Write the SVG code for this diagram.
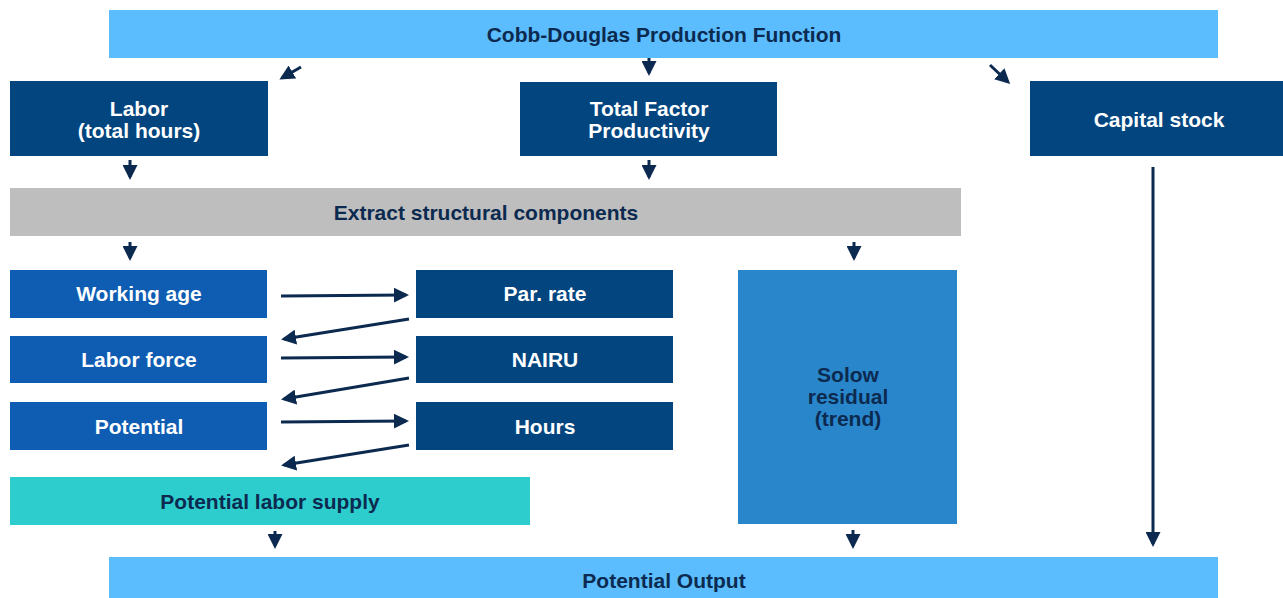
<svg xmlns="http://www.w3.org/2000/svg" width="1283" height="598" viewBox="0 0 1283 598">
<defs>
<style>
.t{font-family:"Liberation Sans",Arial,sans-serif;font-weight:bold;font-size:21px;text-anchor:middle}
.w{fill:#ffffff}
.d{fill:#0c2a50}
.c{stroke:#0c2a50;stroke-width:3;fill:none;marker-end:url(#ah)}
</style>
<marker id="ah" markerWidth="5" markerHeight="5" refX="4" refY="2.5" orient="auto" markerUnits="strokeWidth">
<path d="M0,0 L5,2.5 L0,5 Z" fill="#0c2a50"/>
</marker>
</defs>
<rect width="1283" height="598" fill="#ffffff"/>
<g id="cobb"><rect x="109" y="10" width="1109" height="48" fill="#5bbdfd"/><text class="t d" x="664" y="42">Cobb-Douglas Production Function</text></g>
<g id="labor"><rect x="10" y="81" width="258" height="75" fill="#02457f"/><text class="t w" x="139" y="116">Labor</text><text class="t w" x="139" y="138">(total hours)</text></g>
<g id="tfp"><rect x="520" y="82" width="257" height="74" fill="#02457f"/><text class="t w" x="649" y="116">Total Factor</text><text class="t w" x="649" y="138">Productivity</text></g>
<g id="capital"><rect x="1030" y="81" width="253" height="75" fill="#02457f"/><text class="t w" x="1159" y="127">Capital stock</text></g>
<g id="extract"><rect x="10" y="188" width="951" height="48" fill="#bebebe"/><text class="t d" x="486" y="220">Extract structural components</text></g>
<g id="working"><rect x="10" y="270" width="257" height="48" fill="#0e5db3"/><text class="t w" x="139" y="301">Working age</text></g>
<g id="laborforce"><rect x="10" y="336" width="257" height="47" fill="#0e5db3"/><text class="t w" x="139" y="367">Labor force</text></g>
<g id="potential"><rect x="10" y="402" width="257" height="48" fill="#0e5db3"/><text class="t w" x="139" y="434">Potential</text></g>
<g id="parrate"><rect x="416" y="270" width="257" height="48" fill="#02457f"/><text class="t w" x="545" y="301">Par. rate</text></g>
<g id="nairu"><rect x="416" y="336" width="257" height="47" fill="#02457f"/><text class="t w" x="545" y="367">NAIRU</text></g>
<g id="hours"><rect x="416" y="402" width="257" height="48" fill="#02457f"/><text class="t w" x="545" y="434">Hours</text></g>
<g id="solow"><rect x="738" y="270" width="219" height="254" fill="#2a86ca"/><text class="t d" x="848" y="382">Solow</text><text class="t d" x="848" y="404">residual</text><text class="t d" x="848" y="426">(trend)</text></g>
<g id="pls"><rect x="10" y="477" width="520" height="48" fill="#2ecdcd"/><text class="t d" x="270" y="509">Potential labor supply</text></g>
<g id="output"><rect x="109" y="557" width="1109" height="41" fill="#5bbdfd"/><text class="t d" x="664" y="588">Potential Output</text></g>
<g id="connectors">
<path class="c" d="M301,67 L282,78"/>
<path class="c" d="M649,58 L649,73"/>
<path class="c" d="M990,65 L1008,82"/>
<path class="c" d="M130,160 L130,177"/>
<path class="c" d="M649,160 L649,177"/>
<path class="c" d="M130,242 L130,258"/>
<path class="c" d="M854,242 L854,258"/>
<path class="c" d="M281,296 L406,295"/>
<path class="c" d="M281,358 L406,357"/>
<path class="c" d="M281,422 L406,421"/>
<path class="c" d="M409,319 L284,339"/>
<path class="c" d="M409,378 L284,399"/>
<path class="c" d="M409,445 L284,465"/>
<path class="c" d="M275,531 L275,546"/>
<path class="c" d="M853,530 L853,546"/>
<path class="c" d="M1153,167 L1153,544"/>
</g>
</svg>
